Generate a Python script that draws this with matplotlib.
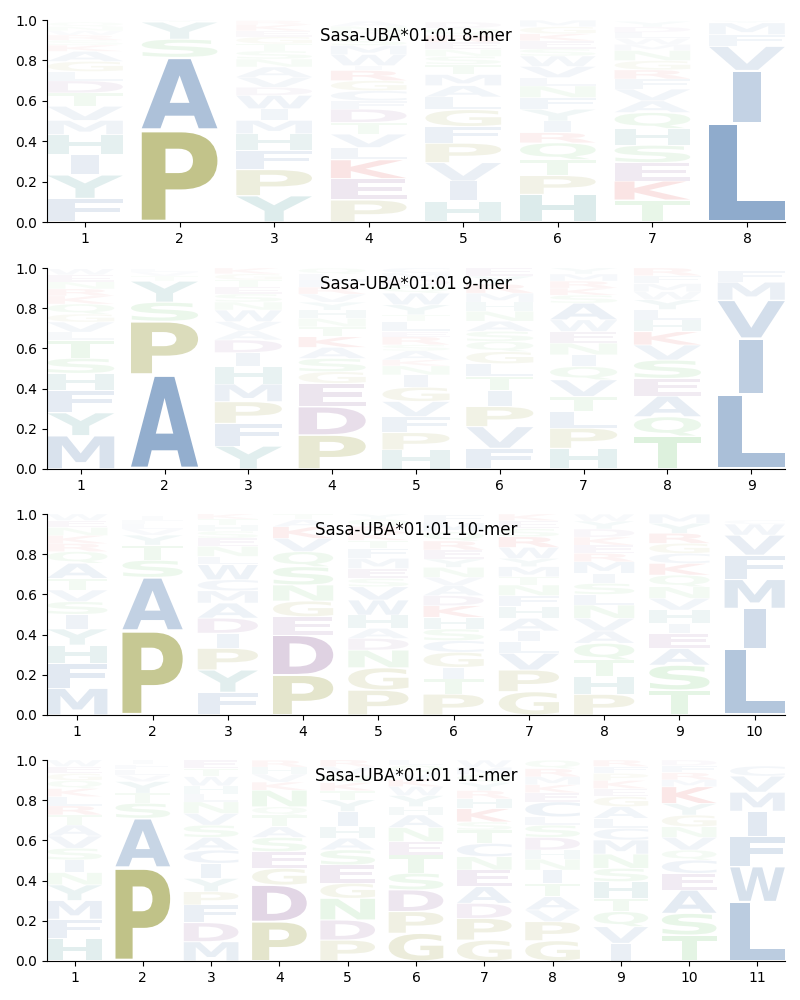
import matplotlib
matplotlib.use("Agg")
import matplotlib.pyplot as plt
from matplotlib.textpath import TextPath
from matplotlib.patches import PathPatch
from matplotlib.font_manager import FontProperties
import matplotlib.transforms as mtrans

# ---------------- data (letters bottom -> top, heights) ----------------
titles = ["Sasa-UBA*01:01 8-mer", "Sasa-UBA*01:01 9-mer",
          "Sasa-UBA*01:01 10-mer", "Sasa-UBA*01:01 11-mer"]

letters_8 = ["FYIHMVTDLGAKSRWNQ", "PASYTV", "YPFHMIWDVANSTGEKR",
             "PEKLVTDFCGRIWMSQNA", "HIVPFGLAMTSNERQD", "HPTQRIYFNLVWSEKGM",
             "TKESHQAVFRGNMWLDY", "LIVFMY"]
heights_8 = [
    [.117, .116, .10, .10, .07, .07, .066, .06, .046, .05, .05, .03, .025, .025, .022, .02, .022],
    [.455, .36, .09, .085, .006, .004],
    [.13, .13, .094, .083, .066, .058, .066, .04, .05, .05, .04, .04, .035, .035, .03, .03, .02],
    [.109, .106, .093, .061, .066, .058, .066, .041, .05, .05, .05, .024, .055, .045, .035, .03, .03, .025],
    [.104, .099, .091, .096, .083, .083, .063, .056, .055, .05, .04, .035, .035, .035, .035, .03],
    [.137, .093, .079, .083, .05, .058, .058, .058, .058, .041, .055, .052, .035, .04, .035, .035, .032],
    [.109, .094, .091, .086, .083, .079, .058, .058, .05, .045, .046, .05, .03, .03, .03, .027, .027],
    [.49, .26, .12, .058, .058, .01],
]

letters_9 = ["MYFHSTLVGQKRNEW", "APSYTVL", "YFPMHIDAVWNSETGK",
             "PDEGSAKTNHYVRFLQ", "HPFVGINKASRELTYWQDMC", "FVPITLGQSANHMRYE",
             "HPLTVQINEWASKRMY", "TQAESVKHLYWMFR", "LIVMF"]
heights_9 = [
    [.166, .114, .113, .083, .075, .09, .04, .05, .04, .05, .04, .035, .035, .035, .03],
    [.47, .265, .095, .105, .025, .02, .015],
    [.114, .113, .108, .088, .086, .07, .063, .046, .045, .058, .04, .04, .035, .035, .03, .029],
    [.169, .141, .116, .058, .066, .055, .053, .05, .041, .041, .04, .04, .035, .035, .03, .029],
    [.095, .086, .08, .075, .071, .061, .045, .03, .045, .03, .04, .026, .05, .033, .05, .058, .035, .035, .03, .026],
    [.103, .108, .1, .08, .07, .063, .06, .051, .05, .05, .05, .045, .045, .045, .04, .042],
    [.103, .1, .083, .075, .083, .066, .058, .058, .058, .058, .083, .04, .035, .035, .035, .031],
    [.164, .096, .103, .088, .091, .075, .066, .058, .053, .048, .04, .04, .04, .038],
    [.37, .28, .19, .09, .055],
]

letters_10 = ["MFHYISVTAQRKNEW", "PASTYVLFI", "FYPIDAMCWLNESHTK", "PDEGNSQVKAT",
              "PGNDAHWVSEMFTKRQY", "PTIGCSHKDAVNYERQMF", "GPVLIAHFNTMYWRSEK",
              "PHTQAVNLSIMREKDYW", "TSAEIHVNQKCGRYM", "LIMFVWC"]
heights_10 = [
    [.133, .124, .091, .08, .073, .063, .058, .058, .075, .058, .04, .04, .04, .035, .032],
    [.42, .265, .085, .075, .05, .03, .025, .02, .02],
    [.113, .111, .108, .075, .075, .075, .061, .055, .075, .041, .05, .041, .035, .03, .03, .026],
    [.199, .199, .091, .078, .08, .091, .075, .066, .058, .035, .028],
    [.124, .111, .088, .058, .05, .066, .075, .066, .041, .05, .05, .05, .04, .035, .035, .035, .026],
    [.104, .075, .058, .075, .058, .058, .058, .058, .05, .05, .041, .05, .041, .045, .045, .045, .045, .04],
    [.116, .108, .083, .058, .053, .063, .058, .055, .053, .041, .05, .041, .055, .053, .04, .04, .033],
    [.103, .088, .083, .083, .061, .063, .066, .053, .055, .05, .058, .041, .041, .04, .04, .04, .034],
    [.124, .124, .083, .075, .05, .066, .058, .058, .058, .058, .05, .05, .05, .05, .045],
    [.33, .2, .145, .12, .1, .055, .02],
]

letters_11 = ["HFMYNISVATRLKQGEW", "PASTYVLFI", "MDFPYICASVNLHWTE", "PDGESATQNKVHR",
              "PDNGESAHIYTKQVR", "GPDSTENAHYWKVQL", "GPDAENCTSKHRYQMW",
              "GPVATINHDSLCEKMRQ", "IVQTHSNMCLAGEKPFR", "TSAECQVNGYKMRFD", "LWFIMVC"]
heights_11 = [
    [.113, .095, .093, .078, .061, .063, .058, .061, .055, .05, .045, .046, .04, .04, .035, .035, .032],
    [.465, .245, .075, .05, .058, .03, .03, .025, .022],
    [.096, .095, .088, .066, .066, .075, .066, .063, .061, .058, .058, .04, .04, .045, .04, .042],
    [.196, .182, .083, .083, .071, .053, .058, .041, .083, .04, .04, .035, .034],
    [.104, .1, .108, .075, .091, .075, .058, .058, .075, .058, .045, .04, .04, .04, .034],
    [.138, .108, .108, .083, .091, .066, .07, .063, .041, .055, .045, .035, .035, .035, .028],
    [.104, .108, .075, .083, .083, .066, .066, .066, .041, .066, .05, .04, .04, .04, .036, .035],
    [.101, .095, .058, .066, .066, .066, .055, .045, .063, .061, .041, .075, .045, .04, .04, .04, .042],
    [.088, .083, .075, .066, .083, .066, .071, .07, .058, .05, .058, .05, .04, .04, .035, .035, .032],
    [.129, .108, .116, .083, .066, .05, .063, .053, .058, .058, .083, .035, .035, .035, .028],
    [.295, .175, .15, .125, .095, .08, .05],
]

panels_letters = [letters_8, letters_9, letters_10, letters_11]
panels_heights = [heights_8, heights_9, heights_10, heights_11]

# ---------------- style ----------------
group_colors = {
    "AVILMFWC": (79/255, 123/255, 175/255),
    "PG": (152/255, 155/255, 58/255),
    "HY": (58/255, 143/255, 143/255),
    "DE": (134/255, 81/255, 146/255),
    "KR": (220/255, 40/255, 40/255),
    "STNQ": (98/255, 193/255, 98/255),
}
letter_color = {}
for grp, col in group_colors.items():
    for ch in grp:
        letter_color[ch] = col

fp = FontProperties(family="DejaVu Sans", weight="bold")
WIDTH = 0.8
VPAD = 0.05


def draw_letter(ax, ch, xc, y0, h):
    tp = TextPath((0, 0), ch, size=1, prop=fp)
    bb = tp.get_extents()
    w = WIDTH * (0.36 if ch == "I" else 1.0)
    sx = w / bb.width
    sy = h * (1 - VPAD) / bb.height
    t = (mtrans.Affine2D()
         .translate(-bb.x0 - bb.width / 2, -bb.y0)
         .scale(sx, sy)
         .translate(xc, y0 + h * VPAD / 2))
    path = t.transform_path(tp)
    alpha = max(0.02, min(1.0, 1.3 * h))
    ax.add_patch(PathPatch(path, facecolor=letter_color[ch], edgecolor="none",
                           lw=0, alpha=alpha))


fig = plt.figure(figsize=(8, 10), dpi=100)
axes_rect = [
    [0.059, 0.778, 0.922, 0.202],
    [0.059, 0.531, 0.922, 0.201],
    [0.059, 0.285, 0.922, 0.201],
    [0.059, 0.039, 0.922, 0.201],
]

for k in range(4):
    ax = fig.add_axes(axes_rect[k])
    lets = panels_letters[k]
    hts = panels_heights[k]
    n = len(lets)
    for i in range(n):
        y = 0.0
        for ch, h in zip(lets[i], hts[i]):
            draw_letter(ax, ch, i + 1, y, h)
            y += h
    ax.set_xlim(1 - WIDTH / 2, n + WIDTH / 2)
    ax.set_ylim(0, 1)
    ax.set_xticks(range(1, n + 1))
    ax.set_xticklabels([str(v) for v in range(1, n + 1)])
    ax.set_yticks([0, 0.2, 0.4, 0.6, 0.8, 1.0])
    ax.set_yticklabels(["0.0", "0.2", "0.4", "0.6", "0.8", "1.0"])
    ax.spines["top"].set_visible(False)
    ax.spines["right"].set_visible(False)
    ax.text(0.5, 0.92, titles[k], transform=ax.transAxes, ha="center",
            va="center", fontsize=12)

fig.savefig("out.png", dpi=100)
